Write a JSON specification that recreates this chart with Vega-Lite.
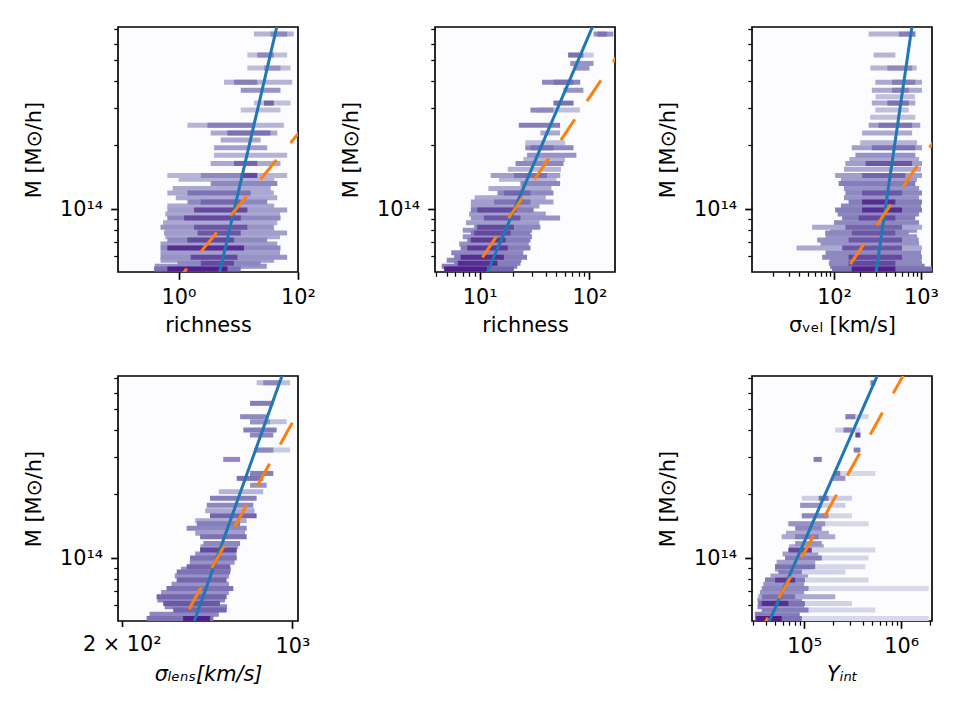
{
  "$schema": "https://vega.github.io/schema/vega-lite/v6.json",
  "padding": {"left": 22, "top": 17, "right": 0, "bottom": 0},
  "config": {
    "font": "DejaVu Sans",
    "view": {"stroke": "#000000", "strokeWidth": 1.67, "fill": "#fcfbfd"},
    "axis": {
      "domain": false, "grid": false, "tickColor": "#000000", "labelColor": "#000000",
      "labelFont": "DejaVu Sans", "labelFontSize": 20.8, "titleFont": "DejaVu Sans",
      "titleFontSize": 20.8, "titleFontWeight": "normal", "titleColor": "#000000",
      "labelPadding": 8, "titlePadding": 8, "labelOverlap": false, "labelFlush": false, "labelBound": false
    },
    "axisY": {"titlePadding": 15}
  },
  "datasets": {
    "cells": [
      {"p":"A","m":1.38e14,"x":1.0,"x2":40,"d":0.25},{"p":"A","m":1.25e14,"x":0.8,"x2":35,"d":0.3},
      {"p":"A","m":1.13e14,"x":0.9,"x2":45,"d":0.3},{"p":"A","m":1.035e14,"x":0.65,"x2":40,"d":0.3},
      {"p":"A","m":9.48e13,"x":0.6,"x2":50,"d":0.3},{"p":"A","m":8.63e13,"x":0.55,"x2":45,"d":0.3},
      {"p":"A","m":7.96e13,"x":0.6,"x2":40,"d":0.3},{"p":"A","m":7.42e13,"x":0.6,"x2":50,"d":0.3},
      {"p":"A","m":6.85e13,"x":0.5,"x2":45,"d":0.35},{"p":"A","m":6.24e13,"x":0.5,"x2":50,"d":0.35},
      {"p":"A","m":5.75e13,"x":0.5,"x2":40,"d":0.35},{"p":"A","m":5.39e13,"x":0.4,"x2":30,"d":0.4},
      {"p":"A","m":6.65e14,"x":18.3,"x2":85,"d":0.25},{"p":"A","m":6.65e14,"x":34.7,"x2":65.8,"d":0.45},
      {"p":"A","m":5.3e14,"x":14.2,"x2":65.8,"d":0.2},{"p":"A","m":5.3e14,"x":20.8,"x2":39.4,"d":0.45},
      {"p":"A","m":4.6e14,"x":14.2,"x2":75,"d":0.2},{"p":"A","m":4.6e14,"x":26.9,"x2":50.9,"d":0.4},
      {"p":"A","m":3.95e14,"x":5.77,"x2":80,"d":0.25},{"p":"A","m":3.95e14,"x":8.49,"x2":20.8,"d":0.5},
      {"p":"A","m":3.62e14,"x":11,"x2":50.9,"d":0.4},
      {"p":"A","m":3.15e14,"x":18.3,"x2":75,"d":0.2},{"p":"A","m":3.15e14,"x":26.9,"x2":39.4,"d":0.6},
      {"p":"A","m":2.92e14,"x":11,"x2":50.9,"d":0.2},
      {"p":"A","m":2.48e14,"x":1.41,"x2":58,"d":0.25},{"p":"A","m":2.48e14,"x":3.05,"x2":18.3,"d":0.5},
      {"p":"A","m":2.28e14,"x":3.46,"x2":45,"d":0.3},{"p":"A","m":2.28e14,"x":6.57,"x2":34.7,"d":0.55},
      {"p":"A","m":2.11e14,"x":5.08,"x2":23.7,"d":0.3},
      {"p":"A","m":1.94e14,"x":3.94,"x2":30.5,"d":0.35},
      {"p":"A","m":1.79e14,"x":3.94,"x2":65.8,"d":0.25},
      {"p":"A","m":1.64e14,"x":3.46,"x2":50.9,"d":0.3},{"p":"A","m":1.64e14,"x":8.49,"x2":20.8,"d":0.6},
      {"p":"A","m":1.44e14,"x":0.65,"x2":65.8,"d":0.25},{"p":"A","m":1.44e14,"x":2.36,"x2":14.2,"d":0.45},{"p":"A","m":1.44e14,"x":11,"x2":20.8,"d":0.7},
      {"p":"A","m":1.32e14,"x":3.46,"x2":45,"d":0.45},
      {"p":"A","m":1.19e14,"x":0.65,"x2":39.4,"d":0.3},{"p":"A","m":1.19e14,"x":1.41,"x2":16.1,"d":0.55},
      {"p":"A","m":1.08e14,"x":1.41,"x2":30.5,"d":0.45},{"p":"A","m":1.08e14,"x":2.36,"x2":11,"d":0.6},
      {"p":"A","m":9.9e13,"x":0.65,"x2":65.8,"d":0.35},{"p":"A","m":9.9e13,"x":1.82,"x2":14.2,"d":0.7},
      {"p":"A","m":9.07e13,"x":0.65,"x2":50.9,"d":0.45},{"p":"A","m":9.07e13,"x":1.24,"x2":11,"d":0.7},
      {"p":"A","m":8.22e13,"x":0.5,"x2":39.4,"d":0.4},{"p":"A","m":8.22e13,"x":1.82,"x2":14.2,"d":0.65},
      {"p":"A","m":7.71e13,"x":0.57,"x2":65.8,"d":0.35},{"p":"A","m":7.71e13,"x":2.08,"x2":11,"d":0.65},
      {"p":"A","m":7.15e13,"x":0.65,"x2":30.5,"d":0.45},{"p":"A","m":7.15e13,"x":1.41,"x2":8.49,"d":0.7},
      {"p":"A","m":6.56e13,"x":0.5,"x2":50.9,"d":0.45},{"p":"A","m":6.56e13,"x":0.65,"x2":12.5,"d":0.8},
      {"p":"A","m":5.94e13,"x":0.5,"x2":65.8,"d":0.4},{"p":"A","m":5.94e13,"x":1.6,"x2":9.66,"d":0.7},
      {"p":"A","m":5.57e13,"x":0.96,"x2":23.7,"d":0.45},{"p":"A","m":5.57e13,"x":2.36,"x2":8.49,"d":0.7},
      {"p":"A","m":5.22e13,"x":0.39,"x2":11,"d":0.55},{"p":"A","m":5.22e13,"x":0.65,"x2":6.57,"d":0.85},

      {"p":"B","m":2.05e14,"x":26,"x2":60,"d":0.2},{"p":"B","m":1.71e14,"x":25,"x2":60,"d":0.25},
      {"p":"B","m":1.54e14,"x":18,"x2":55,"d":0.25},{"p":"B","m":1.38e14,"x":15,"x2":50,"d":0.25},
      {"p":"B","m":1.25e14,"x":12,"x2":45,"d":0.3},{"p":"B","m":1.13e14,"x":9,"x2":40,"d":0.3},
      {"p":"B","m":1.035e14,"x":8.3,"x2":35,"d":0.35},{"p":"B","m":9.48e13,"x":8,"x2":40,"d":0.35},
      {"p":"B","m":8.63e13,"x":7.5,"x2":35,"d":0.35},{"p":"B","m":7.96e13,"x":7,"x2":30,"d":0.4},
      {"p":"B","m":7.42e13,"x":7,"x2":30,"d":0.4},{"p":"B","m":6.85e13,"x":6.5,"x2":28,"d":0.4},
      {"p":"B","m":6.24e13,"x":5.5,"x2":25,"d":0.45},{"p":"B","m":5.75e13,"x":5,"x2":24,"d":0.45},
      {"p":"B","m":5.39e13,"x":4.5,"x2":22,"d":0.5},
      {"p":"B","m":6.65e14,"x":109,"x2":165,"d":0.4},{"p":"B","m":6.65e14,"x":118,"x2":144,"d":0.55},
      {"p":"B","m":5.3e14,"x":64,"x2":109,"d":0.15},{"p":"B","m":5.3e14,"x":64,"x2":88,"d":0.55},
      {"p":"B","m":4.84e14,"x":66.8,"x2":109,"d":0.4},
      {"p":"B","m":4.6e14,"x":71.6,"x2":100,"d":0.4},
      {"p":"B","m":3.95e14,"x":37,"x2":82.4,"d":0.45},{"p":"B","m":3.95e14,"x":47,"x2":71.6,"d":0.55},
      {"p":"B","m":3.62e14,"x":58,"x2":88,"d":0.4},
      {"p":"B","m":3.15e14,"x":47,"x2":71.6,"d":0.55},
      {"p":"B","m":2.92e14,"x":33.6,"x2":82,"d":0.2},{"p":"B","m":2.92e14,"x":29,"x2":47,"d":0.45},
      {"p":"B","m":2.48e14,"x":22.7,"x2":54,"d":0.5},
      {"p":"B","m":2.28e14,"x":35.7,"x2":54,"d":0.3},
      {"p":"B","m":1.94e14,"x":26,"x2":71.6,"d":0.45},{"p":"B","m":1.94e14,"x":29,"x2":47,"d":0.55},
      {"p":"B","m":1.79e14,"x":27,"x2":76,"d":0.4},
      {"p":"B","m":1.64e14,"x":21.2,"x2":58,"d":0.45},
      {"p":"B","m":1.44e14,"x":12.6,"x2":54.2,"d":0.35},{"p":"B","m":1.44e14,"x":20.5,"x2":41,"d":0.55},
      {"p":"B","m":1.32e14,"x":23.5,"x2":54,"d":0.45},
      {"p":"B","m":1.19e14,"x":14.5,"x2":47,"d":0.45},{"p":"B","m":1.19e14,"x":16.6,"x2":29,"d":0.6},
      {"p":"B","m":1.08e14,"x":8.3,"x2":47,"d":0.35},{"p":"B","m":1.08e14,"x":13.5,"x2":29,"d":0.55},
      {"p":"B","m":9.9e13,"x":8.3,"x2":31,"d":0.5},{"p":"B","m":9.9e13,"x":9.5,"x2":21.5,"d":0.7},
      {"p":"B","m":9.07e13,"x":8.3,"x2":54,"d":0.4},{"p":"B","m":9.07e13,"x":10.9,"x2":23.5,"d":0.65},
      {"p":"B","m":8.22e13,"x":8.9,"x2":35.7,"d":0.45},{"p":"B","m":8.22e13,"x":9.5,"x2":20.5,"d":0.7},
      {"p":"B","m":7.71e13,"x":8.3,"x2":29,"d":0.5},{"p":"B","m":7.71e13,"x":8.9,"x2":19.1,"d":0.7},
      {"p":"B","m":7.15e13,"x":7.7,"x2":29,"d":0.5},{"p":"B","m":7.15e13,"x":8.3,"x2":17.2,"d":0.75},
      {"p":"B","m":6.56e13,"x":6.7,"x2":29,"d":0.5},{"p":"B","m":6.56e13,"x":7.7,"x2":18,"d":0.75},
      {"p":"B","m":5.94e13,"x":5.85,"x2":27,"d":0.5},{"p":"B","m":5.94e13,"x":6.7,"x2":16.6,"d":0.8},
      {"p":"B","m":5.57e13,"x":5.85,"x2":23.5,"d":0.5},{"p":"B","m":5.57e13,"x":6.3,"x2":14.5,"d":0.8},
      {"p":"B","m":5.22e13,"x":4.74,"x2":20.5,"d":0.6},{"p":"B","m":5.22e13,"x":4.74,"x2":11.7,"d":0.9},

      {"p":"C","m":3.37e14,"x":300,"x2":850,"d":0.2},{"p":"C","m":2.7e14,"x":260,"x2":860,"d":0.2},
      {"p":"C","m":2.05e14,"x":200,"x2":900,"d":0.25},{"p":"C","m":1.71e14,"x":150,"x2":950,"d":0.3},
      {"p":"C","m":1.54e14,"x":130,"x2":1000,"d":0.3},{"p":"C","m":1.38e14,"x":120,"x2":900,"d":0.35},
      {"p":"C","m":1.25e14,"x":130,"x2":950,"d":0.4},{"p":"C","m":1.13e14,"x":130,"x2":950,"d":0.4},
      {"p":"C","m":1.035e14,"x":120,"x2":1000,"d":0.45},{"p":"C","m":9.48e13,"x":110,"x2":950,"d":0.45},
      {"p":"C","m":8.63e13,"x":100,"x2":950,"d":0.45},{"p":"C","m":7.96e13,"x":90,"x2":900,"d":0.4},
      {"p":"C","m":7.42e13,"x":80,"x2":900,"d":0.4},{"p":"C","m":6.85e13,"x":70,"x2":950,"d":0.4},
      {"p":"C","m":6.24e13,"x":80,"x2":1000,"d":0.45},{"p":"C","m":5.75e13,"x":90,"x2":1000,"d":0.45},
      {"p":"C","m":5.39e13,"x":90,"x2":1100,"d":0.5},
      {"p":"C","m":6.65e14,"x":250,"x2":860,"d":0.25},{"p":"C","m":6.65e14,"x":557,"x2":860,"d":0.5},
      {"p":"C","m":5.3e14,"x":285,"x2":507,"d":0.25},
      {"p":"C","m":4.6e14,"x":262,"x2":890,"d":0.25},{"p":"C","m":4.6e14,"x":410,"x2":790,"d":0.45},
      {"p":"C","m":3.95e14,"x":298,"x2":1026,"d":0.3},{"p":"C","m":3.95e14,"x":465,"x2":860,"d":0.5},
      {"p":"C","m":3.62e14,"x":272,"x2":1026,"d":0.3},{"p":"C","m":3.62e14,"x":465,"x2":722,"d":0.5},
      {"p":"C","m":3.15e14,"x":272,"x2":860,"d":0.3},{"p":"C","m":3.15e14,"x":410,"x2":722,"d":0.55},
      {"p":"C","m":2.92e14,"x":298,"x2":722,"d":0.2},
      {"p":"C","m":2.48e14,"x":250,"x2":980,"d":0.35},{"p":"C","m":2.48e14,"x":325,"x2":790,"d":0.55},
      {"p":"C","m":2.28e14,"x":210,"x2":790,"d":0.3},
      {"p":"C","m":1.94e14,"x":160,"x2":1026,"d":0.35},{"p":"C","m":1.94e14,"x":272,"x2":860,"d":0.55},
      {"p":"C","m":1.79e14,"x":176,"x2":860,"d":0.4},
      {"p":"C","m":1.64e14,"x":135,"x2":1026,"d":0.35},{"p":"C","m":1.64e14,"x":230,"x2":790,"d":0.65},
      {"p":"C","m":1.44e14,"x":103,"x2":1026,"d":0.35},{"p":"C","m":1.44e14,"x":210,"x2":660,"d":0.6},
      {"p":"C","m":1.32e14,"x":113,"x2":860,"d":0.5},
      {"p":"C","m":1.19e14,"x":135,"x2":1026,"d":0.45},{"p":"C","m":1.19e14,"x":210,"x2":605,"d":0.65},
      {"p":"C","m":1.08e14,"x":147,"x2":1026,"d":0.5},{"p":"C","m":1.08e14,"x":210,"x2":507,"d":0.8},
      {"p":"C","m":9.9e13,"x":103,"x2":1026,"d":0.5},{"p":"C","m":9.9e13,"x":210,"x2":605,"d":0.8},
      {"p":"C","m":9.07e13,"x":124,"x2":860,"d":0.5},{"p":"C","m":9.07e13,"x":192,"x2":507,"d":0.7},
      {"p":"C","m":8.22e13,"x":56,"x2":1026,"d":0.3},{"p":"C","m":8.22e13,"x":135,"x2":605,"d":0.6},
      {"p":"C","m":7.71e13,"x":79,"x2":722,"d":0.45},{"p":"C","m":7.71e13,"x":160,"x2":507,"d":0.65},
      {"p":"C","m":7.15e13,"x":64,"x2":940,"d":0.4},{"p":"C","m":7.15e13,"x":147,"x2":605,"d":0.65},
      {"p":"C","m":6.56e13,"x":37,"x2":1026,"d":0.3},{"p":"C","m":6.56e13,"x":124,"x2":605,"d":0.65},
      {"p":"C","m":5.94e13,"x":73,"x2":1026,"d":0.45},{"p":"C","m":5.94e13,"x":147,"x2":605,"d":0.7},
      {"p":"C","m":5.57e13,"x":87,"x2":1026,"d":0.45},{"p":"C","m":5.57e13,"x":147,"x2":507,"d":0.7},
      {"p":"C","m":5.22e13,"x":95,"x2":1337,"d":0.55},{"p":"C","m":5.22e13,"x":160,"x2":507,"d":0.9},

      {"p":"D","m":2.05e14,"x":500,"x2":760,"d":0.25},{"p":"D","m":1.67e14,"x":440,"x2":700,"d":0.3},
      {"p":"D","m":1.5e14,"x":400,"x2":650,"d":0.3},{"p":"D","m":1.31e14,"x":400,"x2":640,"d":0.35},
      {"p":"D","m":1.13e14,"x":420,"x2":600,"d":0.35},{"p":"D","m":1.045e14,"x":400,"x2":590,"d":0.4},
      {"p":"D","m":9.55e13,"x":380,"x2":580,"d":0.4},{"p":"D","m":8.85e13,"x":350,"x2":560,"d":0.4},
      {"p":"D","m":8.23e13,"x":330,"x2":550,"d":0.4},{"p":"D","m":7.53e13,"x":320,"x2":550,"d":0.4},
      {"p":"D","m":6.88e13,"x":290,"x2":550,"d":0.4},{"p":"D","m":6.35e13,"x":280,"x2":530,"d":0.45},
      {"p":"D","m":5.9e13,"x":300,"x2":540,"d":0.45},{"p":"D","m":5.45e13,"x":260,"x2":500,"d":0.45},
      {"p":"D","m":6.67e14,"x":714,"x2":979,"d":0.2},{"p":"D","m":6.67e14,"x":760,"x2":890,"d":0.45},
      {"p":"D","m":5.34e14,"x":671,"x2":836,"d":0.5},
      {"p":"D","m":4.62e14,"x":611,"x2":785,"d":0.45},
      {"p":"D","m":4.37e14,"x":671,"x2":948,"d":0.2},{"p":"D","m":4.37e14,"x":671,"x2":810,"d":0.4},
      {"p":"D","m":4.0e14,"x":630,"x2":862,"d":0.5},
      {"p":"D","m":3.79e14,"x":671,"x2":836,"d":0.45},
      {"p":"D","m":3.22e14,"x":700,"x2":979,"d":0.15},{"p":"D","m":3.22e14,"x":700,"x2":836,"d":0.45},
      {"p":"D","m":2.91e14,"x":521,"x2":611,"d":0.45},
      {"p":"D","m":2.5e14,"x":671,"x2":836,"d":0.5},
      {"p":"D","m":2.37e14,"x":592,"x2":760,"d":0.55},
      {"p":"D","m":2.2e14,"x":671,"x2":785,"d":0.4},
      {"p":"D","m":1.91e14,"x":460,"x2":714,"d":0.5},
      {"p":"D","m":1.77e14,"x":446,"x2":692,"d":0.45},
      {"p":"D","m":1.58e14,"x":460,"x2":714,"d":0.6},
      {"p":"D","m":1.45e14,"x":406,"x2":611,"d":0.5},
      {"p":"D","m":1.38e14,"x":369,"x2":650,"d":0.45},
      {"p":"D","m":1.26e14,"x":419,"x2":650,"d":0.55},
      {"p":"D","m":1.17e14,"x":432,"x2":611,"d":0.45},
      {"p":"D","m":1.09e14,"x":419,"x2":592,"d":0.7},
      {"p":"D","m":1.0e14,"x":381,"x2":592,"d":0.55},
      {"p":"D","m":9.1e13,"x":369,"x2":556,"d":0.6},
      {"p":"D","m":8.6e13,"x":336,"x2":556,"d":0.55},
      {"p":"D","m":7.88e13,"x":336,"x2":538,"d":0.6},
      {"p":"D","m":7.2e13,"x":305,"x2":573,"d":0.55},
      {"p":"D","m":6.58e13,"x":278,"x2":538,"d":0.6},
      {"p":"D","m":6.12e13,"x":296,"x2":505,"d":0.65},
      {"p":"D","m":5.7e13,"x":325,"x2":538,"d":0.6},
      {"p":"D","m":5.2e13,"x":253,"x2":475,"d":0.55},{"p":"D","m":5.2e13,"x":357,"x2":460,"d":0.85},

      {"p":"E","m":1.31e14,"x":65000,"x2":180000,"d":0.3},{"p":"E","m":1.13e14,"x":70000,"x2":160000,"d":0.3},
      {"p":"E","m":1.045e14,"x":60000,"x2":140000,"d":0.35},{"p":"E","m":9.55e13,"x":52000,"x2":130000,"d":0.35},
      {"p":"E","m":8.85e13,"x":50000,"x2":120000,"d":0.35},{"p":"E","m":8.23e13,"x":45000,"x2":110000,"d":0.35},
      {"p":"E","m":7.53e13,"x":38000,"x2":100000,"d":0.4},{"p":"E","m":6.88e13,"x":35000,"x2":100000,"d":0.4},
      {"p":"E","m":6.35e13,"x":33000,"x2":95000,"d":0.45},{"p":"E","m":5.9e13,"x":33000,"x2":100000,"d":0.45},
      {"p":"E","m":5.45e13,"x":31000,"x2":90000,"d":0.5},
      {"p":"E","m":6.67e14,"x":482000,"x2":542000,"d":0.5},
      {"p":"E","m":4.62e14,"x":266000,"x2":462000,"d":0.08},{"p":"E","m":4.62e14,"x":266000,"x2":337000,"d":0.5},
      {"p":"E","m":4.0e14,"x":209000,"x2":380000,"d":0.1},{"p":"E","m":4.0e14,"x":255000,"x2":311000,"d":0.5},
      {"p":"E","m":3.79e14,"x":337000,"x2":380000,"d":0.7},
      {"p":"E","m":3.22e14,"x":324000,"x2":380000,"d":0.5},
      {"p":"E","m":2.91e14,"x":125000,"x2":152000,"d":0.5},
      {"p":"E","m":2.5e14,"x":209000,"x2":542000,"d":0.07},{"p":"E","m":2.5e14,"x":201000,"x2":236000,"d":0.55},
      {"p":"E","m":2.37e14,"x":193000,"x2":266000,"d":0.4},
      {"p":"E","m":1.91e14,"x":94600,"x2":311000,"d":0.12},{"p":"E","m":1.91e14,"x":141000,"x2":178000,"d":0.55},
      {"p":"E","m":1.77e14,"x":91000,"x2":266000,"d":0.12},{"p":"E","m":1.77e14,"x":91000,"x2":152000,"d":0.4},
      {"p":"E","m":1.58e14,"x":94600,"x2":311000,"d":0.08},{"p":"E","m":1.58e14,"x":94600,"x2":178000,"d":0.45},
      {"p":"E","m":1.45e14,"x":68800,"x2":462000,"d":0.07},{"p":"E","m":1.45e14,"x":68800,"x2":165000,"d":0.4},
      {"p":"E","m":1.38e14,"x":80700,"x2":152000,"d":0.45},
      {"p":"E","m":1.26e14,"x":58700,"x2":209000,"d":0.3},{"p":"E","m":1.26e14,"x":80700,"x2":141000,"d":0.5},
      {"p":"E","m":1.17e14,"x":80700,"x2":152000,"d":0.4},
      {"p":"E","m":1.09e14,"x":68800,"x2":542000,"d":0.08},{"p":"E","m":1.09e14,"x":68800,"x2":120000,"d":0.7},
      {"p":"E","m":1.0e14,"x":63600,"x2":462000,"d":0.07},{"p":"E","m":1.0e14,"x":63600,"x2":152000,"d":0.5},
      {"p":"E","m":9.1e13,"x":50100,"x2":427000,"d":0.08},{"p":"E","m":9.1e13,"x":50100,"x2":130000,"d":0.55},
      {"p":"E","m":8.6e13,"x":54200,"x2":266000,"d":0.1},{"p":"E","m":8.6e13,"x":54200,"x2":94600,"d":0.5},
      {"p":"E","m":7.88e13,"x":39500,"x2":462000,"d":0.08},{"p":"E","m":7.88e13,"x":39500,"x2":102000,"d":0.5},{"p":"E","m":7.88e13,"x":50100,"x2":80700,"d":0.75},
      {"p":"E","m":7.2e13,"x":36600,"x2":1930000,"d":0.05},{"p":"E","m":7.2e13,"x":36600,"x2":111000,"d":0.45},
      {"p":"E","m":6.58e13,"x":33600,"x2":209000,"d":0.3},{"p":"E","m":6.58e13,"x":36600,"x2":80700,"d":0.55},
      {"p":"E","m":6.12e13,"x":33600,"x2":311000,"d":0.1},{"p":"E","m":6.12e13,"x":33600,"x2":102000,"d":0.55},{"p":"E","m":6.12e13,"x":36600,"x2":68800,"d":0.8},
      {"p":"E","m":5.7e13,"x":36600,"x2":542000,"d":0.07},{"p":"E","m":5.7e13,"x":36600,"x2":111000,"d":0.5},
      {"p":"E","m":5.2e13,"x":31100,"x2":1930000,"d":0.06},{"p":"E","m":5.2e13,"x":31100,"x2":94600,"d":0.55},{"p":"E","m":5.2e13,"x":32000,"x2":58700,"d":0.85}
    ],
    "fits": [
      {"p":"A","s":"fit","x":3.98,"m":3.95e13},{"p":"A","s":"fit","x":56.2,"m":9.6e14},
      {"p":"A","s":"scaling","x":0.745,"m":4.25e13},{"p":"A","s":"scaling","x":126,"m":2.44e14},
      {"p":"B","s":"fit","x":10,"m":4.16e13},{"p":"B","s":"fit","x":158.5,"m":1.16e15},
      {"p":"B","s":"scaling","x":10.58,"m":5.93e13},{"p":"B","s":"scaling","x":199.5,"m":5.7e14},
      {"p":"C","s":"fit","x":281.8,"m":4.08e13},{"p":"C","s":"fit","x":831.8,"m":8.45e14},
      {"p":"C","s":"scaling","x":153.8,"m":5.51e13},{"p":"C","s":"scaling","x":1585,"m":2.24e14},
      {"p":"D","s":"fit","x":371.5,"m":4.09e13},{"p":"D","s":"fit","x":955,"m":8.48e14},
      {"p":"D","s":"scaling","x":304.7,"m":3.69e13},{"p":"D","s":"scaling","x":1004,"m":4.37e14},
      {"p":"E","s":"fit","x":35500,"m":4.06e13},{"p":"E","s":"fit","x":708000,"m":9.06e14},
      {"p":"E","s":"scaling","x":31600,"m":4.14e13},{"p":"E","s":"scaling","x":1260000,"m":8.38e14}
    ]
  },
  "columns": 3,
  "spacing": {"row": 104, "column": 137},
  "bounds": "flush",
  "concat": [
    {
      "width": 180, "height": 245,
      "encoding": {
        "x": {"field": "x", "type": "quantitative", "scale": {"type": "log", "domain": [0.097, 100], "nice": false},
              "axis": {"title": "richness", "values": [1, 100], "labelExpr": "datum.value == 1 ? '10⁰' : '10²'", "tickSize": 7.3, "tickWidth": 1.67}},
        "y": {"field": "m", "type": "quantitative", "scale": {"type": "log", "domain": [5.06e13, 7.18e14], "nice": false},
              "axis": {"title": "M [M⊙/h]", "values": [6e13, 7e13, 8e13, 9e13, 1e14, 2e14, 3e14, 4e14, 5e14, 6e14, 7e14],
                       "labelExpr": "datum.value == 1e14 ? '10¹⁴' : ''",
                       "tickSize": {"condition": {"test": "datum.value == 1e14", "value": 7.3}, "value": 4.2},
                       "tickWidth": {"condition": {"test": "datum.value == 1e14", "value": 1.67}, "value": 1.25}}}
      },
      "layer": [
        {"data": {"name": "cells"}, "transform": [{"filter": "datum.p == 'A'"}],
         "mark": {"type": "rule", "strokeWidth": 5, "clip": true},
         "encoding": {"x2": {"field": "x2"}, "color": {"field": "d", "type": "quantitative", "scale": {"scheme": "purples", "domain": [0, 0.85], "clamp": true}, "legend": null}}},
        {"data": {"name": "fits"}, "transform": [{"filter": "datum.p == 'A' && datum.s == 'fit'"}],
         "mark": {"type": "line", "clip": true, "color": "#1f77b4", "strokeWidth": 3}, "encoding": {}},
        {"data": {"name": "fits"}, "transform": [{"filter": "datum.p == 'A' && datum.s == 'scaling'"}],
         "mark": {"type": "line", "clip": true, "color": "#ff7f0e", "strokeWidth": 3, "strokeDash": [25, 22]}, "encoding": {}}
      ]
    },
    {
      "width": 180, "height": 245,
      "encoding": {
        "x": {"field": "x", "type": "quantitative", "scale": {"type": "log", "domain": [3.91, 171], "nice": false},
              "axis": {"title": "richness", "values": [4, 5, 6, 7, 8, 9, 10, 20, 30, 40, 50, 60, 70, 80, 90, 100],
                       "labelExpr": "datum.value == 10 ? '10¹' : datum.value == 100 ? '10²' : ''",
                       "tickSize": {"condition": {"test": "datum.value == 10 || datum.value == 100", "value": 7.3}, "value": 4.2},
                       "tickWidth": {"condition": {"test": "datum.value == 10 || datum.value == 100", "value": 1.67}, "value": 1.25}}},
        "y": {"field": "m", "type": "quantitative", "scale": {"type": "log", "domain": [5.06e13, 7.18e14], "nice": false},
              "axis": {"title": "M [M⊙/h]", "values": [6e13, 7e13, 8e13, 9e13, 1e14, 2e14, 3e14, 4e14, 5e14, 6e14, 7e14],
                       "labelExpr": "datum.value == 1e14 ? '10¹⁴' : ''",
                       "tickSize": {"condition": {"test": "datum.value == 1e14", "value": 7.3}, "value": 4.2},
                       "tickWidth": {"condition": {"test": "datum.value == 1e14", "value": 1.67}, "value": 1.25}}}
      },
      "layer": [
        {"data": {"name": "cells"}, "transform": [{"filter": "datum.p == 'B'"}],
         "mark": {"type": "rule", "strokeWidth": 5, "clip": true},
         "encoding": {"x2": {"field": "x2"}, "color": {"field": "d", "type": "quantitative", "scale": {"scheme": "purples", "domain": [0, 0.85], "clamp": true}, "legend": null}}},
        {"data": {"name": "fits"}, "transform": [{"filter": "datum.p == 'B' && datum.s == 'fit'"}],
         "mark": {"type": "line", "clip": true, "color": "#1f77b4", "strokeWidth": 3}, "encoding": {}},
        {"data": {"name": "fits"}, "transform": [{"filter": "datum.p == 'B' && datum.s == 'scaling'"}],
         "mark": {"type": "line", "clip": true, "color": "#ff7f0e", "strokeWidth": 3, "strokeDash": [25, 22]}, "encoding": {}}
      ]
    },
    {
      "width": 180, "height": 245,
      "encoding": {
        "x": {"field": "x", "type": "quantitative", "scale": {"type": "log", "domain": [11.4, 1337], "nice": false},
              "axis": {"title": "σᵥₑₗ [km/s]", "values": [20, 30, 40, 50, 60, 70, 80, 90, 100, 200, 300, 400, 500, 600, 700, 800, 900, 1000],
                       "labelExpr": "datum.value == 100 ? '10²' : datum.value == 1000 ? '10³' : ''",
                       "tickSize": {"condition": {"test": "datum.value == 100 || datum.value == 1000", "value": 7.3}, "value": 4.2},
                       "tickWidth": {"condition": {"test": "datum.value == 100 || datum.value == 1000", "value": 1.67}, "value": 1.25}}},
        "y": {"field": "m", "type": "quantitative", "scale": {"type": "log", "domain": [5.06e13, 7.18e14], "nice": false},
              "axis": {"title": "M [M⊙/h]", "values": [6e13, 7e13, 8e13, 9e13, 1e14, 2e14, 3e14, 4e14, 5e14, 6e14, 7e14],
                       "labelExpr": "datum.value == 1e14 ? '10¹⁴' : ''",
                       "tickSize": {"condition": {"test": "datum.value == 1e14", "value": 7.3}, "value": 4.2},
                       "tickWidth": {"condition": {"test": "datum.value == 1e14", "value": 1.67}, "value": 1.25}}}
      },
      "layer": [
        {"data": {"name": "cells"}, "transform": [{"filter": "datum.p == 'C'"}],
         "mark": {"type": "rule", "strokeWidth": 5, "clip": true},
         "encoding": {"x2": {"field": "x2"}, "color": {"field": "d", "type": "quantitative", "scale": {"scheme": "purples", "domain": [0, 0.85], "clamp": true}, "legend": null}}},
        {"data": {"name": "fits"}, "transform": [{"filter": "datum.p == 'C' && datum.s == 'fit'"}],
         "mark": {"type": "line", "clip": true, "color": "#1f77b4", "strokeWidth": 3}, "encoding": {}},
        {"data": {"name": "fits"}, "transform": [{"filter": "datum.p == 'C' && datum.s == 'scaling'"}],
         "mark": {"type": "line", "clip": true, "color": "#ff7f0e", "strokeWidth": 3, "strokeDash": [25, 22]}, "encoding": {}}
      ]
    },
    {
      "width": 180, "height": 245,
      "encoding": {
        "x": {"field": "x", "type": "quantitative", "scale": {"type": "log", "domain": [193.1, 1055], "nice": false},
              "axis": {"title": "σₗₑₙₛ[km/s]", "titleFontStyle": "italic", "values": [200, 1000],
                       "labelExpr": "datum.value == 200 ? '2 × 10²' : '10³'",
                       "tickSize": {"condition": {"test": "datum.value == 1000", "value": 7.3}, "value": 5.5},
                       "tickWidth": 1.67}},
        "y": {"field": "m", "type": "quantitative", "scale": {"type": "log", "domain": [5.06e13, 7.18e14], "nice": false},
              "axis": {"title": "M [M⊙/h]", "values": [6e13, 7e13, 8e13, 9e13, 1e14, 2e14, 3e14, 4e14, 5e14, 6e14, 7e14],
                       "labelExpr": "datum.value == 1e14 ? '10¹⁴' : ''",
                       "tickSize": {"condition": {"test": "datum.value == 1e14", "value": 7.3}, "value": 4.2},
                       "tickWidth": {"condition": {"test": "datum.value == 1e14", "value": 1.67}, "value": 1.25}}}
      },
      "layer": [
        {"data": {"name": "cells"}, "transform": [{"filter": "datum.p == 'D'"}],
         "mark": {"type": "rule", "strokeWidth": 5, "clip": true},
         "encoding": {"x2": {"field": "x2"}, "color": {"field": "d", "type": "quantitative", "scale": {"scheme": "purples", "domain": [0, 0.85], "clamp": true}, "legend": null}}},
        {"data": {"name": "fits"}, "transform": [{"filter": "datum.p == 'D' && datum.s == 'fit'"}],
         "mark": {"type": "line", "clip": true, "color": "#1f77b4", "strokeWidth": 3}, "encoding": {}},
        {"data": {"name": "fits"}, "transform": [{"filter": "datum.p == 'D' && datum.s == 'scaling'"}],
         "mark": {"type": "line", "clip": true, "color": "#ff7f0e", "strokeWidth": 3, "strokeDash": [25, 22]}, "encoding": {}}
      ]
    },
    {
      "width": 180, "height": 245,
      "view": {"stroke": null, "fill": null},
      "data": {"values": []},
      "mark": {"type": "point", "opacity": 0},
      "encoding": {}
    },
    {
      "width": 180, "height": 245,
      "encoding": {
        "x": {"field": "x", "type": "quantitative", "scale": {"type": "log", "domain": [29000, 2080000], "nice": false},
              "axis": {"title": "Yᵢₙₜ", "titleFontStyle": "italic",
                       "values": [30000, 40000, 50000, 60000, 70000, 80000, 90000, 100000, 200000, 300000, 400000, 500000, 600000, 700000, 800000, 900000, 1000000, 2000000],
                       "labelExpr": "datum.value == 100000 ? '10⁵' : datum.value == 1000000 ? '10⁶' : ''",
                       "tickSize": {"condition": {"test": "datum.value == 100000 || datum.value == 1000000", "value": 7.3}, "value": 4.2},
                       "tickWidth": {"condition": {"test": "datum.value == 100000 || datum.value == 1000000", "value": 1.67}, "value": 1.25}}},
        "y": {"field": "m", "type": "quantitative", "scale": {"type": "log", "domain": [5.06e13, 7.18e14], "nice": false},
              "axis": {"title": "M [M⊙/h]", "values": [6e13, 7e13, 8e13, 9e13, 1e14, 2e14, 3e14, 4e14, 5e14, 6e14, 7e14],
                       "labelExpr": "datum.value == 1e14 ? '10¹⁴' : ''",
                       "tickSize": {"condition": {"test": "datum.value == 1e14", "value": 7.3}, "value": 4.2},
                       "tickWidth": {"condition": {"test": "datum.value == 1e14", "value": 1.67}, "value": 1.25}}}
      },
      "layer": [
        {"data": {"name": "cells"}, "transform": [{"filter": "datum.p == 'E'"}],
         "mark": {"type": "rule", "strokeWidth": 5, "clip": true},
         "encoding": {"x2": {"field": "x2"}, "color": {"field": "d", "type": "quantitative", "scale": {"scheme": "purples", "domain": [0, 0.85], "clamp": true}, "legend": null}}},
        {"data": {"name": "fits"}, "transform": [{"filter": "datum.p == 'E' && datum.s == 'fit'"}],
         "mark": {"type": "line", "clip": true, "color": "#1f77b4", "strokeWidth": 3}, "encoding": {}},
        {"data": {"name": "fits"}, "transform": [{"filter": "datum.p == 'E' && datum.s == 'scaling'"}],
         "mark": {"type": "line", "clip": true, "color": "#ff7f0e", "strokeWidth": 3, "strokeDash": [25, 22]}, "encoding": {}}
      ]
    }
  ]
}
